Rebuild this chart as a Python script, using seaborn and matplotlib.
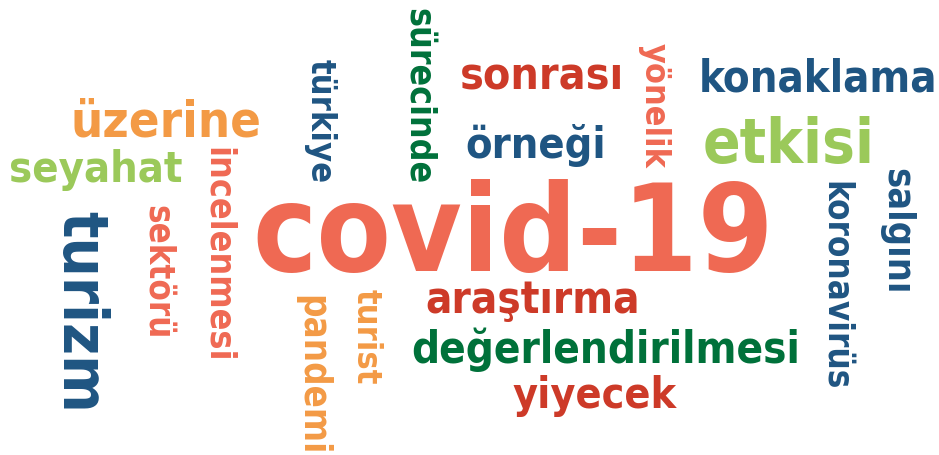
import matplotlib
matplotlib.use("Agg")
import matplotlib.pyplot as plt
from matplotlib import font_manager
from matplotlib.font_manager import FontProperties
from matplotlib.textpath import TextPath
import seaborn as sns

# kelimeler ve renk grupları
words = ["covid-19", "turizm", "sürecinde", "türkiye", "üzerine", "seyahat",
         "incelenmesi", "sektörü", "pandemi", "turist", "sonrası", "örneği",
         "yönelik", "konaklama", "etkisi", "koronavirüs", "salgını",
         "araştırma", "değerlendirilmesi", "yiyecek"]
groups = ["mercan", "lacivert", "koyu_yesil", "lacivert", "turuncu", "acik_yesil",
          "mercan", "mercan", "turuncu", "turuncu", "kirmizi", "lacivert",
          "mercan", "lacivert", "acik_yesil", "lacivert", "lacivert",
          "kirmizi", "koyu_yesil", "kirmizi"]

renkler = {"mercan": "#ef6953", "kirmizi": "#cd3a28", "lacivert": "#1f5582",
           "turuncu": "#f39a45", "acik_yesil": "#9bc95a", "koyu_yesil": "#00713a"}

# yerlesim: x0, x1, y0, y1 (piksel), dikey mi
yerlesim = {
    "covid-19": (258, 768, 177, 275, False),
    "sonrası": (463, 622, 63, 92, False),
    "konaklama": (702, 935, 58, 92, False),
    "örneği": (468, 604, 128, 163, False),
    "etkisi": (706, 871, 117, 163, False),
    "üzerine": (73, 258, 97, 137, False),
    "seyahat": (10, 181, 153, 188, False),
    "araştırma": (428, 638, 283, 320, False),
    "değerlendirilmesi": (413, 798, 332, 370, False),
    "yiyecek": (513, 677, 378, 415, False),
    "sürecinde": (400, 445, 10, 183, True),
    "türkiye": (300, 340, 60, 182, True),
    "yönelik": (635, 674, 43, 168, True),
    "incelenmesi": (200, 242, 150, 360, True),
    "sektörü": (140, 183, 207, 337, True),
    "turizm": (47, 123, 213, 410, True),
    "pandemi": (287, 335, 298, 453, True),
    "turist": (350, 389, 290, 384, True),
    "koronavirüs": (817, 861, 183, 388, True),
    "salgını": (878, 915, 170, 292, True),
}

sns.set_theme(style="white")

names = {f.name for f in font_manager.fontManager.ttflist}
if "Liberation Sans Narrow" in names:
    fp = FontProperties(family="Liberation Sans Narrow", weight="bold")
else:
    fp = FontProperties(family="DejaVu Sans", weight="bold", stretch="condensed")

fig = plt.figure(figsize=(9.39, 4.55), dpi=100)
ax = fig.add_axes([0, 0, 1, 1])
ax.set_xlim(0, 939)
ax.set_ylim(455, 0)
ax.axis("off")

for w, g in zip(words, groups):
    x0, x1, y0, y1, dikey = yerlesim[w]
    cx, cy = (x0 + x1) / 2, (y0 + y1) / 2
    ext = TextPath((0, 0), w, size=100, prop=fp).get_extents()
    uzun = (y1 - y0) if dikey else (x1 - x0)
    k = uzun / ext.width
    fs = 72 * k
    orta_v = (ext.y0 + ext.y1) / 2 * k
    if dikey:
        ax.text(cx - orta_v, cy, w, rotation=-90, rotation_mode="anchor",
                ha="center", va="baseline", fontproperties=fp, fontsize=fs,
                color=renkler[g])
    else:
        ax.text(cx, cy + orta_v, w, rotation_mode="anchor",
                ha="center", va="baseline", fontproperties=fp, fontsize=fs,
                color=renkler[g])

fig.savefig("out.png", dpi=100, facecolor="white")
plt.close(fig)
